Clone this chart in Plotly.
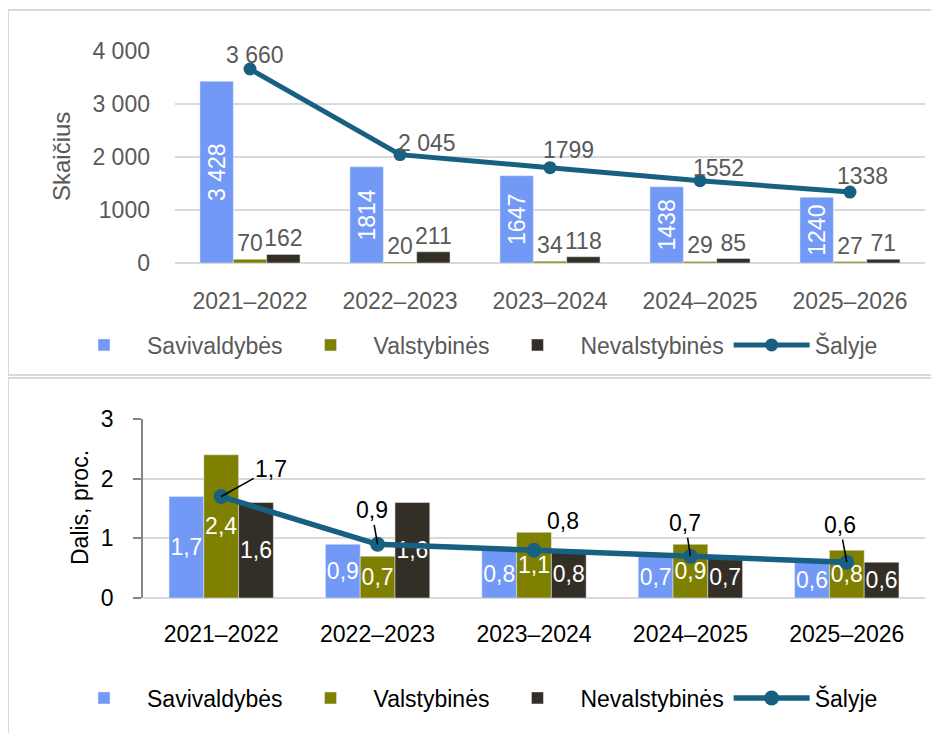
import plotly.graph_objects as go

categories = ["2021–2022", "2022–2023", "2023–2024", "2024–2025", "2025–2026"]

# Top chart: counts
sav_count = [3428, 1814, 1647, 1438, 1240]
val_count = [70, 20, 34, 29, 27]
nev_count = [162, 211, 118, 85, 71]
total_count = [3660, 2045, 1799, 1552, 1338]
sav_count_labels = ["3 428", "1814", "1647", "1438", "1240"]
total_count_labels = ["3 660", "2 045", "1799", "1552", "1338"]
count_tickvals = [0, 1000, 2000, 3000, 4000]
count_ticktext = ["0", "1000", "2 000", "3 000", "4 000"]

# Bottom chart: shares (%)
sav_pct = [1.7, 0.9, 0.8, 0.7, 0.6]
val_pct = [2.4, 0.7, 1.1, 0.9, 0.8]
nev_pct = [1.6, 1.6, 0.8, 0.7, 0.6]
total_pct = [1.7, 0.9, 0.8, 0.7, 0.6]

series_names = ["Savivaldybės", "Valstybinės", "Nevalstybinės", "Šalyje"]

C_SAV = "#7399F6"
C_VAL = "#808000"
C_NEV = "#332F26"
C_LINE = "#176082"
GRID = "#D9D9D9"
GRAY_TXT = "#595959"
FONT = "Liberation Sans"
FS = 23

# page is offset by the default 8px body margin
OFF = 8
W, H = 939 - OFF, 733 - OFF


def fx(px):
    return (px - OFF) / W


def fy(py):
    return 1 - (py - OFF) / H


def fmt(v):
    return f"{v:.1f}".replace(".", ",")


fig = go.Figure()

# ---------- top chart ----------
fig.add_trace(go.Bar(x=categories, y=sav_count, name=series_names[0], marker_color=C_SAV,
                     text=sav_count_labels, textposition="inside", insidetextanchor="middle",
                     textangle=-90, textfont=dict(color="white", size=FS, family=FONT),
                     constraintext="none", xaxis="x", yaxis="y", legend="legend"))
fig.add_trace(go.Bar(x=categories, y=val_count, name=series_names[1], marker_color=C_VAL,
                     text=[str(v) for v in val_count], textposition="outside", textangle=0,
                     textfont=dict(color=GRAY_TXT, size=FS, family=FONT), constraintext="none",
                     cliponaxis=False, xaxis="x", yaxis="y", legend="legend"))
fig.add_trace(go.Bar(x=categories, y=nev_count, name=series_names[2], marker_color=C_NEV,
                     text=[str(v) for v in nev_count], textposition="outside", textangle=0,
                     textfont=dict(color=GRAY_TXT, size=FS, family=FONT), constraintext="none",
                     cliponaxis=False, xaxis="x", yaxis="y", legend="legend"))
fig.add_trace(go.Scatter(x=categories, y=total_count, name=series_names[3], mode="lines+markers",
                         line=dict(color=C_LINE, width=5), marker=dict(size=13, color=C_LINE),
                         cliponaxis=False, xaxis="x", yaxis="y", legend="legend"))

# ---------- bottom chart ----------
fig.add_trace(go.Bar(x=categories, y=sav_pct, name=series_names[0], marker_color=C_SAV,
                     text=[fmt(v) for v in sav_pct], textposition="inside", insidetextanchor="middle",
                     textangle=0, textfont=dict(color="white", size=FS, family=FONT),
                     constraintext="none", xaxis="x2", yaxis="y2", legend="legend2"))
fig.add_trace(go.Bar(x=categories, y=val_pct, name=series_names[1], marker_color=C_VAL,
                     text=[fmt(v) for v in val_pct], textposition="inside", insidetextanchor="middle",
                     textangle=0, textfont=dict(color="white", size=FS, family=FONT),
                     constraintext="none", xaxis="x2", yaxis="y2", legend="legend2"))
fig.add_trace(go.Bar(x=categories, y=nev_pct, name=series_names[2], marker_color=C_NEV,
                     text=[fmt(v) for v in nev_pct], textposition="inside", insidetextanchor="middle",
                     textangle=0, textfont=dict(color="white", size=FS, family=FONT),
                     constraintext="none", xaxis="x2", yaxis="y2", legend="legend2"))
fig.add_trace(go.Scatter(x=categories, y=total_pct, name=series_names[3], mode="lines+markers",
                         line=dict(color=C_LINE, width=5.5), marker=dict(size=15, color=C_LINE),
                         cliponaxis=False, xaxis="x2", yaxis="y2", legend="legend2"))

# line value labels (top chart)
top_dx = [5, 27, 18, 18, 12]
top_dy = [14, 12, 18, 13, 16]
annotations = []
for i, c in enumerate(categories):
    annotations.append(dict(x=c, y=total_count[i], xref="x", yref="y", text=total_count_labels[i],
                            showarrow=False, xshift=top_dx[i], yshift=top_dy[i],
                            font=dict(color=GRAY_TXT, size=FS, family=FONT)))

# line value labels (bottom chart) with leader lines
bot_ax = [50, -6, 29, -5, -7]
bot_ay = [-28, -34, -29, -33, -37]
bot_arrow = [True, True, False, True, True]
for i, c in enumerate(categories):
    if bot_arrow[i]:
        annotations.append(dict(x=c, y=total_pct[i], xref="x2", yref="y2", text=fmt(total_pct[i]),
                                showarrow=True, arrowhead=0, arrowwidth=1.6, arrowcolor="black",
                                ax=bot_ax[i], ay=bot_ay[i], axref="pixel", ayref="pixel",
                                standoff=0, font=dict(color="black", size=FS, family=FONT)))
    else:
        annotations.append(dict(x=c, y=total_pct[i], xref="x2", yref="y2", text=fmt(total_pct[i]),
                                showarrow=False, xshift=bot_ax[i], yshift=-bot_ay[i],
                                font=dict(color="black", size=FS, family=FONT)))

# axis titles
annotations.append(dict(x=fx(61), y=fy(157), xref="paper", yref="paper", text="Skaičius",
                        textangle=-90, showarrow=False, xanchor="center", yanchor="middle",
                        font=dict(color=GRAY_TXT, size=FS + 1, family=FONT)))
annotations.append(dict(x=fx(80), y=fy(508), xref="paper", yref="paper", text="Dalis, proc.",
                        textangle=-90, showarrow=False, xanchor="center", yanchor="middle",
                        font=dict(color="black", size=FS, family=FONT)))

shapes = [
    dict(type="rect", xref="paper", yref="paper", x0=fx(8), x1=1.02, y0=fy(375), y1=fy(10),
         line=dict(color=GRID, width=2), layer="below"),
    dict(type="rect", xref="paper", yref="paper", x0=fx(8), x1=1.02, y0=-0.02, y1=fy(378),
         line=dict(color=GRID, width=2), layer="below"),
]

fig.update_layout(
    width=W, height=H,
    margin=dict(l=0, r=0, t=0, b=0, autoexpand=False),
    paper_bgcolor="white", plot_bgcolor="white",
    barmode="group", bargap=0.333, bargroupgap=0,
    font=dict(family=FONT, size=FS, color=GRAY_TXT),
    annotations=annotations, shapes=shapes,
    xaxis=dict(domain=[fx(175), fx(925)], anchor="y", showgrid=False, showline=False, automargin=False,
               ticks="", tickfont=dict(color=GRAY_TXT, size=FS, family=FONT), ticklabelstandoff=22),
    yaxis=dict(domain=[fy(263), fy(51)], anchor="x", range=[0, 4000], automargin=False,
               tickvals=count_tickvals, ticktext=count_ticktext, showgrid=True, gridcolor=GRID,
               gridwidth=1.5, zeroline=True, zerolinecolor=GRID, zerolinewidth=1.5, showline=False,
               tickfont=dict(color=GRAY_TXT, size=FS, family=FONT), ticklabelstandoff=24),
    xaxis2=dict(domain=[fx(143), fx(925)], anchor="y2", showgrid=False, showline=False, automargin=False,
                ticks="", tickfont=dict(color="black", size=FS, family=FONT), ticklabelstandoff=20),
    yaxis2=dict(domain=[fy(598), fy(419)], anchor="x2", range=[0, 3], dtick=1, automargin=False,
                showgrid=True, gridcolor=GRID, gridwidth=1.5, zeroline=True, zerolinecolor=GRID,
                zerolinewidth=1.5, showline=True, linecolor="#868686", linewidth=1.5,
                ticks="outside", ticklen=8, tickcolor="#868686", tickwidth=1.5,
                tickfont=dict(color="black", size=FS, family=FONT), ticklabelstandoff=15),
    legend=dict(orientation="h", xref="container", yref="container", x=fx(61), y=fy(345),
                xanchor="left", yanchor="middle", itemwidth=76,
                font=dict(color=GRAY_TXT, size=FS, family=FONT), bgcolor="rgba(0,0,0,0)",
                traceorder="normal"),
    legend2=dict(orientation="h", xref="container", yref="container", x=fx(61), y=fy(698),
                 xanchor="left", yanchor="middle", itemwidth=76,
                 font=dict(color="black", size=FS, family=FONT), bgcolor="rgba(0,0,0,0)",
                 traceorder="normal"),
)

fig.write_html("out.html")
